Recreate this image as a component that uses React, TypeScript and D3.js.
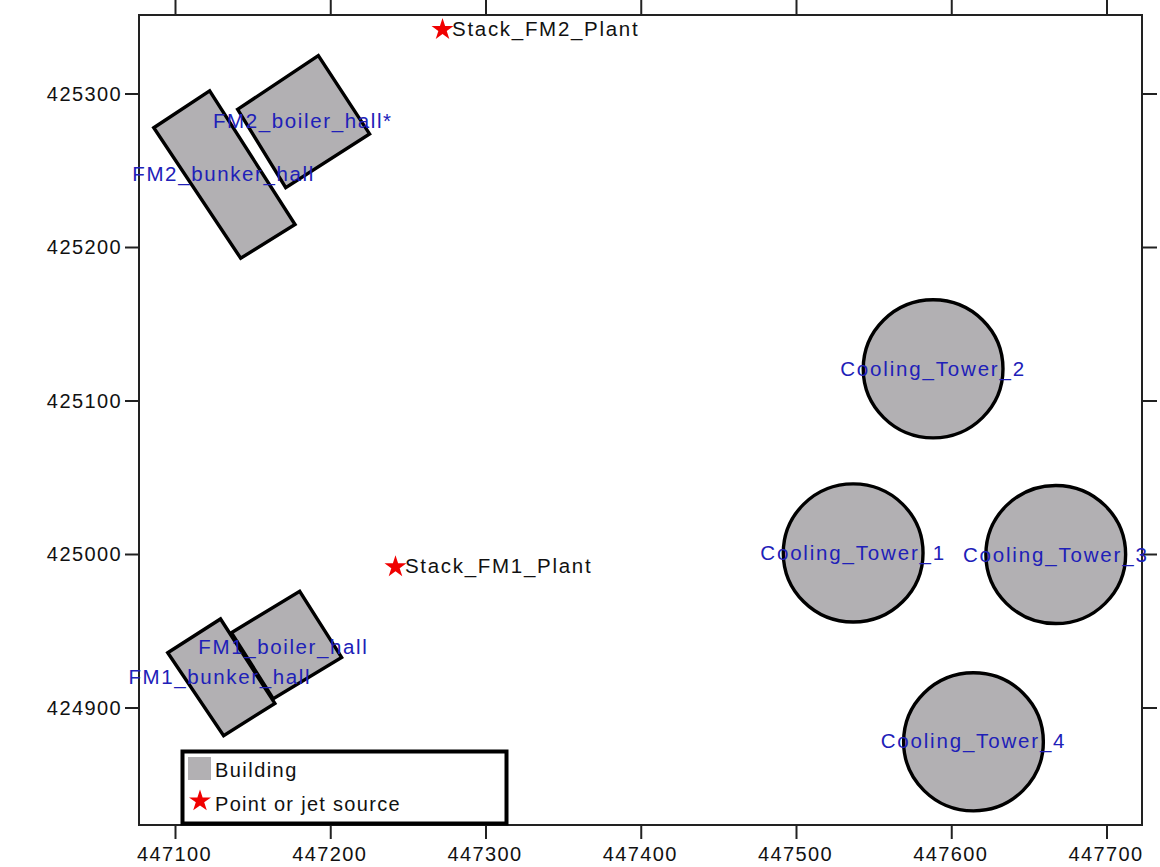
import React from "react";
import * as d3 from "d3";

const xTicks = [447100, 447200, 447300, 447400, 447500, 447600, 447700];
const yTicks = [424900, 425000, 425100, 425200, 425300];

type B = { name: string; corners: [number, number][]; lx: number; ly: number };
const buildings: B[] = [
  { name: "FM2_boiler_hall*", corners: [[447140, 425290], [447192, 425325], [447225, 425274], [447171, 425239]], lx: 447182, ly: 425282.5 },
  { name: "FM2_bunker_hall", corners: [[447086, 425278], [447122, 425302], [447177, 425215], [447142, 425193]], lx: 447131, ly: 425248 },
  { name: "FM1_boiler_hall", corners: [[447136, 424949], [447180, 424976], [447207, 424933], [447163, 424906]], lx: 447169.5, ly: 424939.5 },
  { name: "FM1_bunker_hall", corners: [[447095, 424936], [447129, 424958], [447164, 424903], [447131, 424882]], lx: 447128.5, ly: 424920 },
];
const towerNames = ["Cooling_Tower_2", "Cooling_Tower_1", "Cooling_Tower_3", "Cooling_Tower_4"];
const towerX = [447588, 447536.5, 447667, 447614];
const towerY = [425121, 425001, 425000, 424878];
const towerLabelY = [425121, 425001, 425000, 424878.7];
const towerRadius = 45;

const stackNames = ["Stack_FM2_Plant", "Stack_FM1_Plant"];
const stackX = [447272, 447241.7];
const stackY = [425342, 424992];

const x = d3.scaleLinear().domain([447100, 447700]).range([175.5, 1107]);
const y = d3.scaleLinear().domain([425300, 424900]).range([94, 708]);

const L = 139, R = 1142, T = 15, B_ = 825;
const font = "'Liberation Sans', Arial, sans-serif";
const axisColor = "#222";
const grey = "#b2b0b3";
const blue = "#2020b8";
const labelSize = 20.5;
const spacing = 1.62;
const towerSpacing = 1.82;
const stackSpacing = 1.7;

const starPath = d3.symbol().type(d3.symbolStar).size(150)() as string;
const line = d3.line();

export default function App() {
  return (
    <svg width={1160} height={867} viewBox="0 0 1160 867"
      style={{ position: "absolute", left: 0, top: 0, background: "#fff", fontFamily: font }}>
      {buildings.map(b => (
        <path key={b.name}
          d={(line(b.corners.map(([a, c]) => [x(a), y(c)] as [number, number])) as string) + "Z"}
          fill={grey} stroke="#000" strokeWidth={3.4} strokeLinejoin="miter" />
      ))}
      {towerNames.map((n, i) => (
        <ellipse key={n} cx={x(towerX[i])} cy={y(towerY[i])}
          rx={x(447100 + towerRadius) - x(447100)} ry={y(425300 - towerRadius) - y(425300)}
          fill={grey} stroke="#000" strokeWidth={3.4} />
      ))}
      <rect x={L} y={T} width={R - L} height={B_ - T} fill="none" stroke={axisColor} strokeWidth={2} />
      {xTicks.map(t => (
        <g key={t}>
          <line x1={x(t)} x2={x(t)} y1={0} y2={T} stroke={axisColor} strokeWidth={2} />
          <line x1={x(t)} x2={x(t)} y1={B_} y2={B_ + 14} stroke={axisColor} strokeWidth={2} />
          <text x={x(t) - 1} y={861} textAnchor="middle" fontSize={20} fill="#111" letterSpacing={1.4}>{t}</text>
        </g>
      ))}
      {yTicks.map(t => (
        <g key={t}>
          <line x1={L - 14} x2={L} y1={y(t)} y2={y(t)} stroke={axisColor} strokeWidth={2} />
          <line x1={R} x2={R + 15} y1={y(t)} y2={y(t)} stroke={axisColor} strokeWidth={2} />
          <text x={122} y={y(t) + 6.5} textAnchor="end" fontSize={20} fill="#111" letterSpacing={1.4}>{t}</text>
        </g>
      ))}
      {buildings.map(b => (
        <text key={b.name} x={x(b.lx)} y={y(b.ly)} dy={7} textAnchor="middle" fontSize={labelSize} fill={blue} letterSpacing={spacing}>{b.name}</text>
      ))}
      {towerNames.map((n, i) => (
        <text key={n} x={x(towerX[i])} y={y(towerLabelY[i])} dy={7} textAnchor="middle" fontSize={labelSize} fill={blue} letterSpacing={towerSpacing}>{n}</text>
      ))}
      {stackNames.map((n, i) => (
        <g key={n}>
          <path d={starPath} transform={`translate(${x(stackX[i])},${y(stackY[i])})`} fill="#f00000" />
          <text x={x(stackX[i]) + 9.5} y={y(stackY[i]) + 6.5} fontSize={labelSize} fill="#111" letterSpacing={stackSpacing}>{n}</text>
        </g>
      ))}
      <rect x={182.5} y={751.5} width={324} height={72} fill="#fff" stroke="#000" strokeWidth={4} />
      <rect x={188} y={757} width={23} height={23} fill={grey} />
      <text x={215} y={777} fontSize={20} fill="#111" letterSpacing={1.45}>Building</text>
      <path d={starPath} transform="translate(200,801)" fill="#f00000" />
      <text x={215} y={811} fontSize={20} fill="#111" letterSpacing={1.3}>Point or jet source</text>
    </svg>
  );
}
